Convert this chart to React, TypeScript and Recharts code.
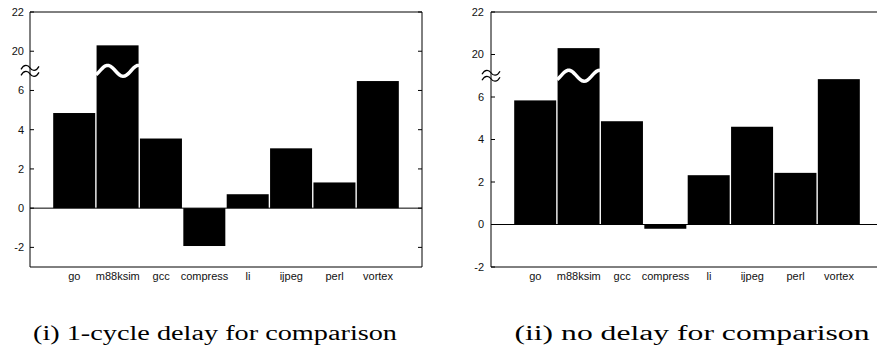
import React from 'react';
import { BarChart, Bar, XAxis, YAxis, ReferenceLine, CartesianGrid } from 'recharts';

const categories = ['go', 'm88ksim', 'gcc', 'compress', 'li', 'ijpeg', 'perl', 'vortex'];
const oneCycleDelay = [4.85, 20.3, 3.55, -1.93, 0.71, 3.05, 1.31, 6.48];
const noDelay = [5.84, 20.3, 4.86, -0.2, 2.32, 4.6, 2.43, 6.84];
const yTickLabels = [-2, 0, 2, 4, 6, 20, 22];
const captions = ['(i) 1-cycle delay for comparison', '(ii) no delay for comparison'];

// axis break: everything above BREAK_AT is shifted down by GAP
const BREAK_AT = 7;
const GAP = 12;
const toDisplay = (v: number) => (v > BREAK_AT ? v - GAP : v);
const fromDisplay = (d: number) => (d > BREAK_AT ? d + GAP : d);

const FONT = '"Liberation Sans", Arial, Helvetica, sans-serif';
const SERIF = '"Liberation Serif", "Times New Roman", serif';

interface PanelProps {
  values: number[];
  left: number;
  width: number;
  yAxisWidth: number;
  marginRight: number;
  yMin: number;
  labelGap: number;
}

const YTick = (props: any) => {
  const { y, payload, plotLeft, plotRight, labelGap } = props;
  return (
    <g>
      <line x1={plotLeft} x2={plotLeft + 4} y1={y} y2={y} stroke="#000" />
      <line x1={plotRight - 4} x2={plotRight} y1={y} y2={y} stroke="#000" />
      <text
        x={plotLeft - labelGap}
        y={y}
        dy="0.35em"
        textAnchor="end"
        fontSize={11}
        fontFamily={FONT}
        fill="#111"
      >
        {fromDisplay(payload.value)}
      </text>
    </g>
  );
};

const BrokenBar = (props: any) => {
  const { x, y, width, height, payload } = props;
  const top = Math.min(y, y + height);
  const h = Math.abs(height);
  let wave = null;
  if (payload.raw > BREAK_AT) {
    const yb = y + (height * (payload.value - BREAK_AT)) / payload.value;
    const pts: string[] = [];
    for (let i = 0; i <= 24; i++) {
      const t = i / 24;
      const yy = yb - 5.5 * Math.sin((2 * Math.PI * (t - 0.09)) / 0.72);
      pts.push(`${(x + t * width).toFixed(2)},${yy.toFixed(2)}`);
    }
    wave = <polyline points={pts.join(' ')} fill="none" stroke="#fff" strokeWidth={3.5} />;
  }
  return (
    <g>
      <rect x={x + 0.5} y={top} width={width - 1} height={h} fill="#000" />
      {wave}
    </g>
  );
};

const BreakMark = (props: any) => {
  const vb = props.viewBox || {};
  const x = vb.x;
  const y = vb.y;
  if (x == null || y == null) return null;
  const tilde = (yy: number) =>
    `M ${x - 9} ${yy + 1.5} C ${x - 6} ${yy - 4} ${x - 2} ${yy - 3} ${x} ${yy} S ${x + 6} ${yy + 4} ${x + 9} ${yy - 1.5}`;
  return (
    <g>
      <rect x={x - 2} y={y - 3.5} width={4} height={7} fill="#fff" />
      <path d={tilde(y - 3)} fill="none" stroke="#000" strokeWidth={1.2} />
      <path d={tilde(y + 3)} fill="none" stroke="#000" strokeWidth={1.2} />
    </g>
  );
};

const Panel: React.FC<PanelProps> = ({ values, left, width, yAxisWidth, marginRight, yMin, labelGap }) => {
  const height = 300;
  const data = categories.map((name, i) => ({ name, raw: values[i], value: toDisplay(values[i]) }));
  const ticks = yTickLabels.map(toDisplay);
  const plotLeft = yAxisWidth;
  const plotRight = width - marginRight;
  const domain = [yMin, toDisplay(22)];

  return (
    <div style={{ position: 'absolute', left, top: 0 }}>
      <BarChart
        width={width}
        height={height}
        data={data}
        margin={{ top: 12, right: marginRight, bottom: 0, left: 0 }}
        barCategoryGap={0}
      >
        {/* frame: top and right edges of the plot box */}
        <CartesianGrid
          stroke="#000"
          horizontalCoordinatesGenerator={({ offset }: any) => [offset.top]}
          verticalCoordinatesGenerator={({ offset }: any) => [offset.left + offset.width]}
        />
        <XAxis
          dataKey="name"
          height={33}
          tickLine={false}
          tickSize={0}
          tickMargin={5}
          axisLine={{ stroke: '#000' }}
          padding={{ left: 22.7, right: 22.3 }}
          interval={0}
          tick={{ fontSize: 11, fontFamily: FONT, fill: '#111' }}
        />
        <YAxis
          type="number"
          domain={domain}
          ticks={ticks}
          width={yAxisWidth}
          tickLine={false}
          axisLine={{ stroke: '#000' }}
          interval={0}
          allowDataOverflow
          tick={(p: any) => (
            <YTick {...p} plotLeft={plotLeft} plotRight={plotRight} labelGap={labelGap} />
          )}
        />
        <Bar dataKey="value" fill="#000" isAnimationActive={false} shape={(p: any) => <BrokenBar {...p} />} />
        <ReferenceLine y={0} stroke="#000" strokeWidth={1} />
        <ReferenceLine
          y={BREAK_AT}
          stroke="none"
          label={(p: any) => <BreakMark viewBox={p.viewBox} />}
        />
      </BarChart>
    </div>
  );
};

export default function App() {
  return (
    <div
      style={{
        position: 'absolute',
        left: 0,
        top: 0,
        width: 877,
        height: 351,
        overflow: 'hidden',
        background: '#fff',
      }}
    >
      <Panel values={oneCycleDelay} left={0} width={440} yAxisWidth={30} marginRight={18} yMin={-3} labelGap={6} />
      <Panel values={noDelay} left={450} width={450} yAxisWidth={41} marginRight={17} yMin={-2} labelGap={7} />
      <svg width={877} height={351} style={{ position: 'absolute', left: 0, top: 0, pointerEvents: 'none' }}>
        <text
          x={215}
          y={340}
          textAnchor="middle"
          fontSize={20}
          fontFamily={SERIF}
          textLength={364}
          lengthAdjust="spacingAndGlyphs"
          fill="#000"
        >
          {captions[0]}
        </text>
        <text
          x={692}
          y={340}
          textAnchor="middle"
          fontSize={20}
          fontFamily={SERIF}
          textLength={355}
          lengthAdjust="spacingAndGlyphs"
          fill="#000"
        >
          {captions[1]}
        </text>
      </svg>
    </div>
  );
}
